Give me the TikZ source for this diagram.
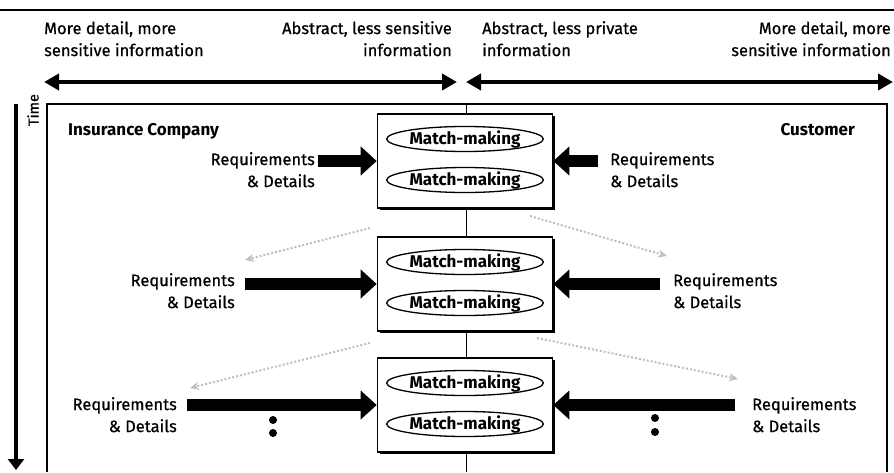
\documentclass[tikz,border=0pt]{standalone}
\usepackage{fontspec}
\setmainfont{Fira Sans}[UprightFeatures={FakeBold=0.6}]
\usetikzlibrary{arrows.meta,positioning,calc,shadows,shapes.geometric}

\tikzset{
	info/.style={font=\fontsize{16.5}{22}\selectfont, inner sep=0pt},
	party/.style={font=\fontsize{17}{22}\selectfont\bfseries, inner sep=0pt},
	scale arrow/.style={line width=4.5pt, {Triangle[length=15pt,width=16pt]}-{Triangle[length=15pt,width=16pt]}},
	req arrow/.style={line width=12pt, -{Triangle[length=16pt,width=28pt]}},
	hint arrow/.style={gray!50, dotted, line width=2pt, -{Stealth[length=9pt,width=8pt]}},
	mbox/.style={draw, fill=white, line width=1.6pt, minimum width=175pt, minimum height=94pt,
		drop shadow={shadow xshift=2pt, shadow yshift=-2pt, fill=black, opacity=1}},
	match/.style={draw, ellipse, line width=1.3pt, minimum width=142pt, minimum height=25pt,
		inner sep=0pt, font=\fontsize{17}{20}\selectfont\bfseries},
}

\begin{document}
\begin{tikzpicture}[x=1pt,y=-1pt]
	\useasboundingbox (0,0) rectangle (894,472);

	% scale of sensitivity
	\draw[line width=1.5pt] (0,10) -- (894,10);
	\node[info, align=left, anchor=north west] (lfar) at (44,21) {More detail, more\\sensitive information};
	\node[info, align=right, anchor=north east] (lnear) at (452,21) {Abstract, less sensitive\\information};
	\node[info, align=left, anchor=north west] (rnear) at (482,21) {Abstract, less private\\information};
	\node[info, align=right, anchor=north east] (rfar) at (891,21) {More detail, more\\sensitive information};
	\coordinate (sl1) at (44,82);
	\coordinate (sl2) at (457,82);
	\coordinate (sr1) at (466,82);
	\coordinate (sr2) at (893,82);
	\draw[scale arrow] (sl1) -- (sl2);
	\draw[scale arrow] (sr1) -- (sr2);

	% time axis
	\coordinate (t1) at (16,104);
	\coordinate (t2) at (16,470);
	\draw[line width=4pt, -{Triangle[length=11pt,width=16pt]}] (t1) -- (t2);
	\node[font=\fontsize{14.5}{16}\selectfont, rotate=90, inner sep=0pt] (time) at (33,110) {Time};

	% frame and divider
	\draw[line width=1.2pt] (47,472) |- (887,104) -- (887,472);
	\draw[line width=0.8pt] (466,104) -- (466,472);
	\node[party, anchor=west] (ins) at (68,131) {Insurance Company};
	\node[party, anchor=east] (cust) at (855,130) {Customer};

	% match-making boxes
	\node[mbox] (box1) at (465,161) {};
	\node[mbox] (box2) at (465,284) {};
	\node[mbox] (box3) at (465,405) {};
	\foreach \b in {1,2,3}{
		\node[match] (m\b a) at ($(box\b.center)+(0,-22)$) {Match-making};
		\node[match] (m\b b) at ($(box\b.center)+(0,19)$) {Match-making};
	}

	% requirements flowing in
	\coordinate (q1l) at (318,161);
	\coordinate (q1r) at (598,161);
	\coordinate (q2l) at (245,284);
	\coordinate (q2r) at (660,284);
	\coordinate (q3l) at (187,405);
	\coordinate (q3r) at (735,405);
	\foreach \r in {1,2,3}{
		\draw[req arrow] (q\r l) -- (box\r.west);
		\draw[req arrow] (q\r r) -- (box\r.east);
	}
	\node[info, align=right, below left=-9pt and 3pt of q1l] (d1l) {Requirements\\\& Details};
	\node[info, align=left, below right=-9pt and 12pt of q1r] (d1r) {Requirements\\\& Details};
	\node[info, align=right, below left=-11pt and 10pt of q2l] (d2l) {Requirements\\\& Details};
	\node[info, align=left, below right=-11pt and 13pt of q2r] (d2r) {Requirements\\\& Details};
	\node[info, align=right, below left=-8pt and 10pt of q3l] (d3l) {Requirements\\\& Details};
	\node[info, align=left, below right=-8pt and 17pt of q3r] (d3r) {Requirements\\\& Details};

	% more rounds follow
	\fill (273,420) circle (4pt) (273,433) circle (4pt);
	\fill (655,418) circle (4pt) (655,432) circle (4pt);

	% results handed back
	\coordinate (h1a) at (370,228);
	\coordinate (h1b) at (245,260);
	\coordinate (h1c) at (530,216);
	\coordinate (h1d) at (667,256);
	\coordinate (h2a) at (370,343);
	\coordinate (h2b) at (190,388);
	\coordinate (h2c) at (537,338);
	\coordinate (h2d) at (738,379);
	\draw[hint arrow] (h1a) -- (h1b);
	\draw[hint arrow] (h1c) -- (h1d);
	\draw[hint arrow] (h2a) -- (h2b);
	\draw[hint arrow] (h2c) -- (h2d);
\end{tikzpicture}
\end{document}
